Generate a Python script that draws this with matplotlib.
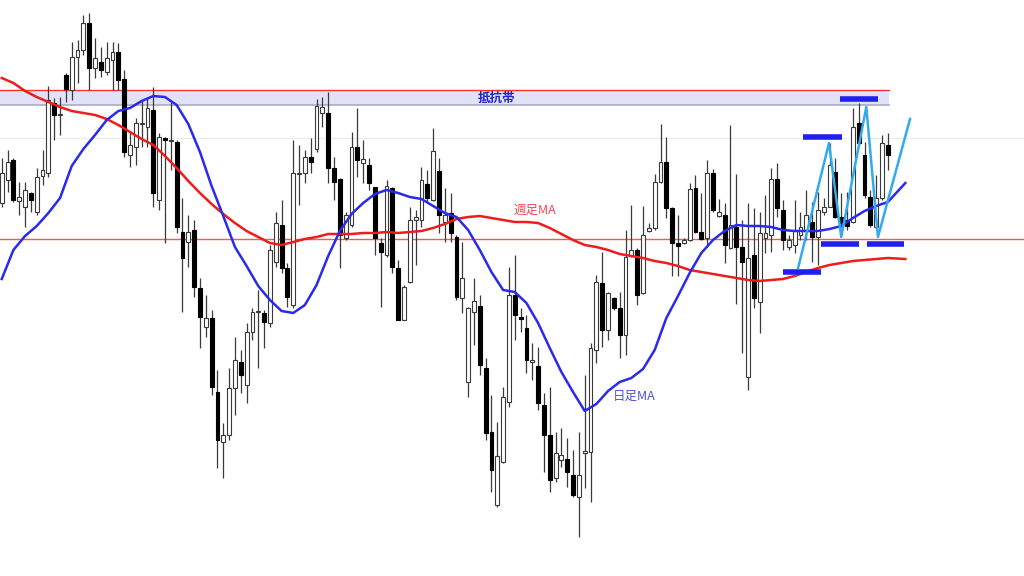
import matplotlib
matplotlib.use("Agg")
import matplotlib.pyplot as plt
import numpy as np

plt.rcParams['font.family'] = ['Noto Sans CJK JP', 'DejaVu Sans']

# daily candles (price in points)
opens = [397, 420, 440, 399, 393, 407, 388, 424, 427, 497, 485, 525, 510, 543, 550, 577, 532, 538, 528, 540,
         548, 521, 445, 453, 476, 473, 490, 400, 462, 459, 458, 368, 358, 370, 312, 273, 282, 208, 158, 165,
         212, 238, 215, 268, 288, 287, 277, 338, 375, 332, 295, 426, 427, 443, 451, 487, 487, 432, 421, 362,
         375, 453, 437, 435, 413, 357, 345, 412, 332, 280, 318, 380, 380, 416, 400, 429, 378, 387, 363, 302,
         218, 288, 294, 232, 168, 95, 138, 198, 305, 283, 272, 238, 234, 195, 165, 122, 140, 141, 125, 103,
         147, 148, 250, 317, 270, 302, 292, 265, 344, 350, 307, 369, 372, 418, 438, 392, 357, 357, 360, 412,
         368, 362, 427, 384, 385, 352, 373, 353, 223, 345, 298, 362, 365, 421, 390, 353, 355, 365, 370, 378,
         363, 388, 393, 428, 383, 380, 378, 477, 445, 403, 373, 402, 455]
highs = [442, 450, 442, 418, 418, 408, 432, 450, 514, 502, 503, 527, 558, 560, 585, 587, 562, 553, 558, 558,
         557, 530, 467, 482, 500, 502, 513, 467, 463, 498, 460, 402, 385, 380, 322, 305, 290, 230, 177, 232,
         263, 250, 277, 292, 310, 290, 355, 388, 400, 337, 460, 455, 450, 462, 501, 503, 508, 443, 422, 388,
         468, 492, 460, 442, 413, 362, 420, 413, 340, 315, 393, 390, 433, 430, 472, 442, 412, 407, 365, 358,
         293, 322, 305, 242, 205, 178, 213, 333, 345, 292, 285, 257, 253, 207, 213, 168, 172, 162, 150, 168,
         225, 257, 325, 348, 308, 303, 308, 370, 395, 352, 394, 377, 426, 476, 463, 393, 385, 362, 417, 425,
         407, 440, 431, 401, 397, 475, 426, 380, 397, 392, 388, 405, 432, 437, 400, 365, 400, 388, 410, 398,
         408, 402, 457, 442, 407, 408, 492, 497, 458, 410, 425, 465, 467]
lows = [393, 408, 398, 385, 373, 388, 385, 415, 423, 460, 465, 498, 500, 517, 545, 510, 522, 523, 525, 510,
        510, 443, 433, 435, 453, 453, 393, 390, 357, 430, 367, 288, 333, 303, 252, 263, 205, 132, 122, 160,
        185, 207, 197, 260, 232, 252, 273, 333, 327, 293, 292, 395, 417, 427, 448, 473, 417, 400, 332, 360,
        373, 423, 417, 410, 345, 293, 343, 327, 280, 280, 317, 335, 373, 398, 399, 367, 358, 358, 300, 287,
        203, 255, 225, 160, 108, 93, 137, 193, 260, 268, 227, 220, 190, 128, 108, 118, 133, 113, 103, 63,
        112, 98, 237, 253, 260, 290, 242, 245, 343, 295, 306, 368, 370, 417, 382, 324, 324, 356, 359, 367,
        360, 353, 388, 383, 337, 351, 296, 247, 210, 292, 267, 347, 348, 383, 350, 350, 347, 360, 360, 338,
        335, 385, 393, 382, 373, 370, 377, 455, 402, 373, 372, 400, 430]
closes = [427, 438, 400, 403, 410, 400, 423, 430, 500, 485, 485, 511, 543, 550, 577, 532, 542, 530, 542, 548,
          520, 448, 455, 477, 476, 492, 407, 463, 460, 459, 373, 342, 368, 313, 283, 282, 213, 160, 165, 212,
          240, 225, 268, 288, 288, 278, 350, 377, 332, 303, 427, 426, 443, 438, 494, 493, 432, 418, 365, 385,
          453, 440, 441, 417, 362, 348, 414, 333, 280, 313, 380, 383, 420, 402, 449, 385, 385, 367, 303, 322,
          292, 299, 235, 167, 130, 144, 203, 305, 285, 281, 240, 240, 197, 165, 120, 147, 145, 128, 105, 125,
          149, 252, 318, 270, 307, 292, 265, 343, 350, 305, 365, 372, 418, 438, 392, 357, 354, 360, 411, 368,
          361, 427, 390, 388, 355, 375, 353, 338, 342, 302, 367, 367, 421, 392, 360, 360, 370, 373, 385, 363,
          390, 393, 435, 383, 377, 374, 473, 457, 405, 375, 402, 457, 445]

# moving averages, read every 2 candles (+ the last point past the final candle)
ma_idx = list(range(0, 153, 2)) + [155]
daily_ma = [321, 350, 364, 374, 387, 402, 434, 451, 465, 480, 489, 492, 499, 504, 503, 495, 476, 448, 414, 384,
            353, 334, 314, 300, 289, 287, 295, 315, 344, 369, 386, 397, 406, 410, 407, 403, 401, 394, 387, 383,
            370, 350, 328, 310, 308, 297, 277, 252, 228, 208, 189, 196, 209, 218, 222, 231, 250, 282, 304, 327,
            347, 360, 369, 375, 374, 374, 373, 370, 369, 369, 369, 371, 374, 382, 389, 394, 398, 417]
weekly_ma = [522, 517, 509, 503, 498, 493, 489, 487, 485, 481, 475, 468, 461, 455, 444, 432, 419, 407, 396, 386,
             377, 369, 363, 357, 355, 358, 361, 363, 366, 366, 366, 367, 367, 368, 367, 368, 369, 372, 376, 381,
             383, 384, 382, 380, 378, 378, 377, 372, 366, 360, 355, 353, 350, 346, 344, 342, 339, 337, 334, 330,
             328, 326, 324, 322, 320, 319, 320, 321, 324, 328, 332, 335, 337, 339, 340, 341, 342, 341]

# levels
zone_low, zone_high = 495, 510
support_line = 361
grid_line = 462

# drawn annotations
flat_lines = [(137.5, 144.1, 463), (143.8, 150.3, 501), (140.5, 147.1, 356), (148.4, 154.8, 356), (134.0, 140.5, 328)]
zig_x = [136.6, 141.9, 144.0, 148.3, 150.3, 155.8]
zig_y = [332, 457, 363, 493, 363, 481]

fig = plt.figure(figsize=(10.24, 5.76), dpi=100)
ax = fig.add_axes([0, 0, 1, 1])
ax.set_xlim(-0.3, 175.35)
ax.set_ylim(24, 600)
ax.axis('off')

n = len(opens)
x = np.arange(n)
o = np.array(opens)
c = np.array(closes)

ax.axhline(grid_line, color='#ececec', lw=0.8, zorder=0)
ax.fill_between([-0.3, 152.2], zone_low, zone_high, color='#e1e2f7', zorder=0, lw=0)
ax.plot([-0.3, 152.2], [zone_high, zone_high], color='#ff3030', lw=1, zorder=1)
ax.plot([-0.3, 152.2], [zone_low, zone_low], color='#a9abc4', lw=1.2, zorder=1)
ax.axhline(support_line, color='#ff5555', lw=1, zorder=1)

ax.vlines(x, lows, highs, color='#3a3a3a', lw=0.9, zorder=2)
up = c >= o
body_h = np.maximum(np.abs(c - o), 0.8)
ax.bar(x[up], body_h[up], bottom=o[up], width=0.66, color='white', edgecolor='#3a3a3a', lw=0.8, zorder=3)
ax.bar(x[~up], body_h[~up], bottom=c[~up], width=0.66, color='black', edgecolor='black', lw=0.8, zorder=3)

ax.plot(ma_idx, weekly_ma, color='#ee1c1c', lw=1.8, zorder=4)
ax.plot(ma_idx, daily_ma, color='#2a2aee', lw=1.8, zorder=4)

for x0, x1, lvl in flat_lines:
    ax.plot([x0, x1], [lvl, lvl], color='#2020ee', lw=4, solid_capstyle='butt', zorder=5)
ax.plot(zig_x, zig_y, color='#33aaee', lw=1.8, zorder=5)

ax.text(84.8, 502, '抵抗帯', color='#2424c8', fontsize=9, fontweight='bold', ha='center', va='center', zorder=6)
ax.text(91.4, 390, '週足MA', color='#ff4455', fontsize=9, ha='center', va='center', zorder=6)
ax.text(108.5, 204, '日足MA', color='#5050e0', fontsize=9, ha='center', va='center', zorder=6)

fig.savefig('out.png', dpi=100)
